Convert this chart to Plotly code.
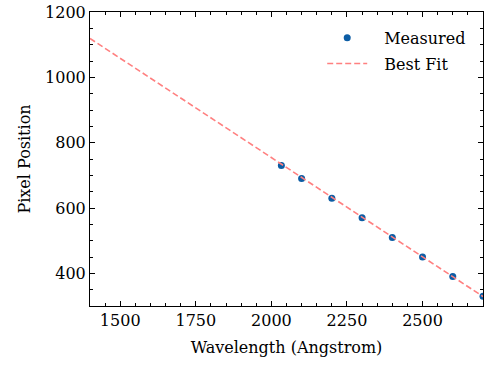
import plotly.graph_objects as go

wavelength = [2033, 2100, 2200, 2300, 2400, 2500, 2600, 2700]
pixel = [730, 690, 630, 570, 510, 450, 390, 330]

fit_wavelength = [1400, 2700]
fit_pixel = [1119, 329]

x_range = [1400, 2700]
y_range = [300, 1200]
x_ticks = [1500, 1750, 2000, 2250, 2500]
y_ticks = [400, 600, 800, 1000, 1200]

FONT = "DejaVu Serif"
FS = 16
PAD = "\u2002\u2005"

fig = go.Figure()
fig.add_trace(go.Scatter(
    x=wavelength, y=pixel, mode="markers", name=PAD + "Measured", legendgroup="a",
    marker=dict(color="#0C5DA5", size=7), cliponaxis=True,
))
fig.add_trace(go.Scatter(
    x=fit_wavelength, y=fit_pixel, mode="lines", name=PAD + "Best Fit", legendgroup="b",
    line=dict(color="#FF8080", width=1.6, dash="6px,3px"),
))

axis_common = dict(
    showgrid=False, zeroline=False, showline=True, linecolor="black", linewidth=1,
    mirror="allticks", ticks="inside", ticklen=5, tickwidth=1, tickcolor="black",
    tickfont=dict(family=FONT, size=FS, color="black"), automargin=False,
)
fig.update_xaxes(
    range=x_range, tickvals=x_ticks, **axis_common,
    minor=dict(ticks="inside", ticklen=3, tickwidth=0.8, tickcolor="black", dtick=50, tick0=1400),
    title=dict(text="Wavelength (Angstrom)", font=dict(family=FONT, size=FS, color="black"), standoff=12),
)
fig.update_yaxes(
    range=y_range, tickvals=y_ticks, **axis_common,
    minor=dict(ticks="inside", ticklen=3, tickwidth=0.8, tickcolor="black", dtick=50, tick0=300),
    title=dict(text="Pixel Position", font=dict(family=FONT, size=FS, color="black"), standoff=10),
)
fig.update_layout(
    width=484, height=365,
    margin=dict(l=90, r=1, t=12, b=59, autoexpand=False),
    plot_bgcolor="white", paper_bgcolor="white",
    font=dict(family=FONT, size=FS, color="black"),
    legend=dict(x=0.97, y=0.97, xanchor="right", yanchor="top",
                bgcolor="rgba(0,0,0,0)", borderwidth=0, itemwidth=40,
                tracegroupgap=2,
                font=dict(family=FONT, size=FS, color="black")),
    showlegend=True,
)
fig.write_html(
    "out.html",
    config={"displayModeBar": False},
    post_script="document.body.style.margin='0';document.body.style.overflow='hidden';",
)
